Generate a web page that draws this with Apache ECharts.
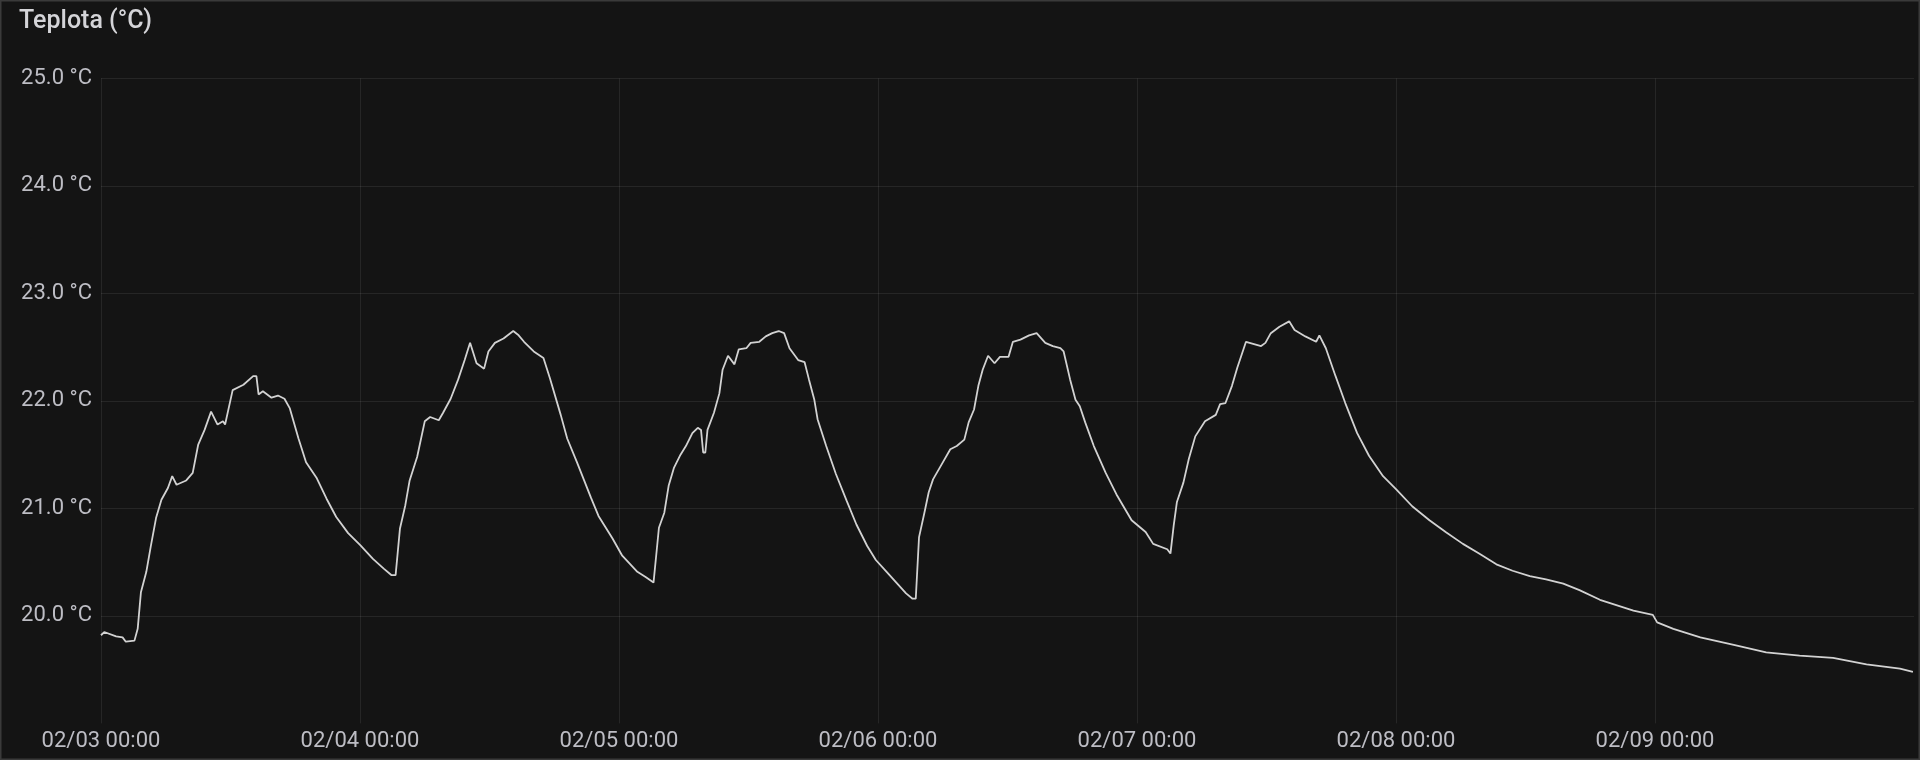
<!DOCTYPE html>
<html>
<head>
<meta charset="utf-8">
<script src="https://cdn.jsdelivr.net/npm/echarts@6/dist/echarts.min.js"></script>
<style>
html,body{margin:0;padding:0;background:#141414;}
#chart{width:1920px;height:760px;}
</style>
</head>
<body>
<div id="chart"></div>
<script>
// Hours since 02/03 00:00
const hours = [0,0.3,1.4,2.0,2.3,3.1,3.4,3.7,4.2,4.6,5.1,5.6,6.2,6.6,7.0,7.9,8.5,9.0,9.6,10.2,10.8,11.3,11.5,12.2,13.2,14.1,14.4,14.6,15.0,15.8,16.4,17.0,17.5,18.3,19.0,20.0,20.9,21.8,22.9,24.0,25.2,26.2,26.9,27.3,27.7,28.2,28.6,29.3,30.0,30.5,31.3,31.7,32.4,33.1,33.7,34.2,34.8,35.5,35.9,36.5,37.3,38.2,38.7,39.2,40.1,41.0,41.6,42.6,43.2,44.1,45.4,46.1,47.4,48.3,49.7,50.5,51.2,51.7,52.2,52.6,53.1,53.7,54.2,54.8,55.3,55.6,55.8,56.0,56.2,56.8,57.3,57.6,58.1,58.7,59.1,59.8,60.2,61.0,61.6,62.2,62.8,63.3,63.8,64.6,65.2,65.6,66.1,66.4,67.2,68.1,69.1,70.0,71.0,71.8,72.8,73.7,74.6,75.2,75.5,75.8,76.3,76.7,77.1,77.9,78.7,79.3,80.0,80.4,80.9,81.3,81.7,82.2,82.8,83.3,84.1,84.5,85.2,86.0,86.7,87.5,88.2,88.9,89.2,89.8,90.3,90.7,91.2,92.0,93.1,94.1,95.5,96.8,97.5,98.8,99.1,99.4,99.7,100.3,100.8,101.4,102.3,103.3,103.7,104.2,104.8,105.3,106.1,107.5,107.9,108.4,109.2,110.1,110.6,111.6,112.6,112.9,113.5,114.4,115.3,116.4,117.5,118.8,120.0,121.5,123.1,124.6,126.2,127.7,129.3,130.8,132.4,133.9,135.5,137.0,138.9,142.0,143.8,144.2,145.7,148.2,151.3,154.3,157.4,160.5,163.6,166.7,167.9];
const temps = [19.82,19.85,19.81,19.80,19.76,19.77,19.88,20.22,20.41,20.64,20.91,21.08,21.19,21.30,21.22,21.26,21.33,21.59,21.73,21.90,21.78,21.81,21.78,22.10,22.15,22.23,22.23,22.06,22.09,22.03,22.05,22.02,21.93,21.65,21.43,21.28,21.09,20.92,20.77,20.66,20.53,20.44,20.38,20.38,20.81,21.03,21.26,21.48,21.81,21.85,21.82,21.89,22.02,22.20,22.38,22.54,22.35,22.30,22.46,22.54,22.58,22.65,22.61,22.55,22.46,22.40,22.21,21.87,21.65,21.43,21.10,20.93,20.72,20.56,20.41,20.36,20.31,20.82,20.96,21.21,21.38,21.50,21.58,21.70,21.75,21.73,21.52,21.52,21.73,21.89,22.07,22.29,22.42,22.34,22.48,22.49,22.54,22.55,22.60,22.63,22.65,22.63,22.49,22.38,22.36,22.20,22.01,21.83,21.58,21.32,21.07,20.85,20.65,20.52,20.41,20.31,20.21,20.16,20.16,20.73,20.96,21.15,21.27,21.41,21.55,21.58,21.64,21.80,21.92,22.14,22.29,22.42,22.35,22.41,22.41,22.55,22.57,22.61,22.63,22.54,22.51,22.49,22.46,22.20,22.01,21.95,21.80,21.58,21.33,21.13,20.89,20.78,20.67,20.62,20.58,20.84,21.06,21.24,21.46,21.67,21.81,21.87,21.97,21.98,22.14,22.31,22.55,22.51,22.54,22.63,22.69,22.74,22.66,22.60,22.55,22.61,22.49,22.23,21.98,21.70,21.49,21.30,21.18,21.02,20.89,20.78,20.67,20.58,20.48,20.42,20.37,20.34,20.30,20.24,20.15,20.05,20.01,19.94,19.88,19.80,19.73,19.66,19.63,19.61,19.55,19.51,19.48];
const xTickLabels = ['02/03 00:00','02/04 00:00','02/05 00:00','02/06 00:00','02/07 00:00','02/08 00:00','02/09 00:00'];
const titleText = 'Teplota (°C)';

const chart = echarts.init(document.getElementById('chart'), null, {renderer: 'canvas'});
const data = hours.map((h, i) => [h, temps[i]]);
const font = 'Roboto, Inter, sans-serif';

chart.setOption({
  backgroundColor: '#141414',
  animation: false,
  title: {
    text: titleText,
    left: 14,
    top: 4,
    textStyle: {color: '#d4d4d8', fontSize: 25, fontWeight: 500, fontFamily: font}
  },
  graphic: [{
    type: 'rect',
    shape: {x: 0.5, y: 0.5, width: 1919, height: 759},
    style: {fill: 'none', stroke: '#3a3a3a', lineWidth: 2},
    silent: true
  }],
  grid: {left: 101, right: 6, top: 78.4, bottom: 36.6, containLabel: false},
  xAxis: {
    type: 'value',
    min: 0,
    max: 168,
    interval: 24,
    axisLine: {show: false},
    axisTick: {show: false},
    splitLine: {show: true, showMaxLine: false, lineStyle: {color: 'rgba(255,255,255,0.08)', width: 1}},
    axisLabel: {
      color: '#bdbdc4',
      fontSize: 22,
      fontFamily: font,
      margin: 7,
      showMaxLabel: false,
      formatter: v => xTickLabels[Math.round(v / 24)] || ''
    }
  },
  yAxis: {
    type: 'value',
    min: 19,
    max: 25,
    interval: 1,
    axisLine: {show: false},
    axisTick: {show: false},
    splitLine: {show: true, showMinLine: false, lineStyle: {color: 'rgba(255,255,255,0.08)', width: 1}},
    axisLabel: {
      color: '#bdbdc4',
      fontSize: 22,
      fontFamily: font,
      margin: 9,
      showMinLabel: false,
      formatter: v => v.toFixed(1) + ' °C'
    }
  },
  series: [{
    type: 'line',
    data: data,
    showSymbol: false,
    smooth: false,
    lineStyle: {color: '#d2d2d2', width: 1.8},
    itemStyle: {color: '#d2d2d2'}
  }]
});
</script>
</body>
</html>
